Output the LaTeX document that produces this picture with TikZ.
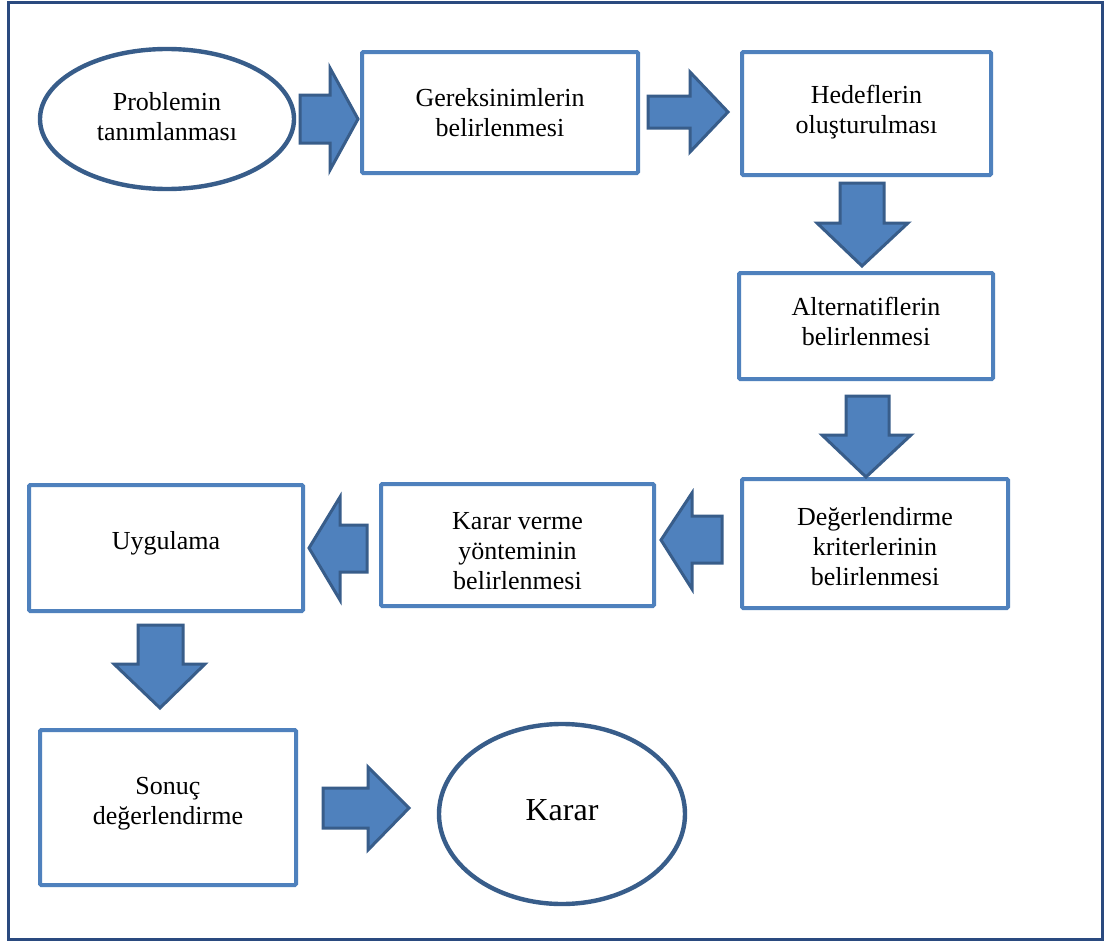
\documentclass[tikz,border=0pt]{standalone}
\usepackage{fontspec}
\setmainfont{Liberation Serif}
\usetikzlibrary{shapes.geometric}
\definecolor{boxblue}{HTML}{4F81BD}
\definecolor{darkblue}{HTML}{385D8A}
\definecolor{frameblue}{HTML}{2A4A7F}
\begin{document}
\begin{tikzpicture}[x=0.5pt,y=-0.5pt,
  box/.style={draw=boxblue, line width=2pt, fill=white, rounded corners=0.6pt, inner sep=0pt},
  oval/.style={ellipse, draw=darkblue, line width=2.2pt, fill=white, inner sep=0pt},
  txt/.style={align=center, inner sep=0pt, font=\fontsize{13}{15}\selectfont},
  blk/.style={fill=boxblue, draw=darkblue, line width=1.5pt, line join=miter}]
\useasboundingbox (0,0) rectangle (1109,942);
\fill[white] (0,0) rectangle (1109,942);
\draw[frameblue, line width=1.5pt] (8.5,2) rectangle (1102.5,939.5);

% shapes
\node[oval, minimum width=127pt, minimum height=70pt] (p1) at (167,119) {};
\node[box, minimum width=138pt, minimum height=60.5pt] (b2) at (500,112.5) {};
\node[box, minimum width=124.5pt, minimum height=61.5pt] (b3) at (866.5,113.5) {};
\node[box, minimum width=127pt, minimum height=53pt] (b4) at (866,326) {};
\node[box, minimum width=133pt, minimum height=64.5pt] (b5) at (875,543.5) {};
\node[box, minimum width=136.5pt, minimum height=61pt] (b6) at (517.5,545) {};
\node[box, minimum width=137pt, minimum height=63pt] (b7) at (166,548) {};
\node[box, minimum width=128pt, minimum height=77.5pt] (b8) at (168,807.5) {};
\node[oval, minimum width=123pt, minimum height=90pt] (p9) at (562,814) {};

% texts
\node[txt] (t1) at ([yshift=1pt]p1.center) {Problemin\\tanımlanması};
\node[txt] (t2) at (b2.center) {Gereksinimlerin\\belirlenmesi};
\node[txt] (t3) at ([yshift=0.5pt]b3.center) {Hedeflerin\\oluşturulması};
\node[txt] (t4) at ([yshift=2.5pt]b4.center) {Alternatiflerin\\belirlenmesi};
\node[txt] (t5) at ([yshift=-1.5pt]b5.center) {Değerlendirme\\kriterlerinin\\belirlenmesi};
\node[txt] (t6) at ([yshift=-3pt]b6.center) {Karar verme\\yönteminin\\belirlenmesi};
\node[txt] (t7) at ([yshift=2.5pt]b7.center) {Uygulama};
\node[txt] (t8) at ([yshift=2pt]b8.center) {Sonuç\\değerlendirme};
\node[txt, font=\fontsize{16}{18}\selectfont] (t9) at ([yshift=2pt]p9.center) {Karar};

% block arrows
\draw[blk] (300,95) -- (330,95) -- (330,68) -- (358,119) -- (330,170) -- (330,143) -- (300,143) -- cycle;
\draw[blk] (648,96) -- (690,96) -- (690,72) -- (728,112) -- (690,152) -- (690,128) -- (648,128) -- cycle;
\draw[blk] (840,183) -- (884,183) -- (884,223) -- (908,223) -- (862,266) -- (817,223) -- (840,223) -- cycle;
\draw[blk] (846,396) -- (889,396) -- (889,435) -- (911,435) -- (866,477) -- (822,435) -- (846,435) -- cycle;
\draw[blk] (722,516) -- (692,516) -- (692,493) -- (661,540) -- (692,589) -- (692,563) -- (722,563) -- cycle;
\draw[blk] (367,525) -- (340,525) -- (340,497) -- (309,548) -- (340,600) -- (340,572) -- (367,572) -- cycle;
\draw[blk] (138,625) -- (183,625) -- (183,664) -- (205,664) -- (160,708) -- (114,664) -- (138,664) -- cycle;
\draw[blk] (323,788) -- (368,788) -- (368,767) -- (409,808) -- (368,850) -- (368,828) -- (323,828) -- cycle;
\end{tikzpicture}
\end{document}
